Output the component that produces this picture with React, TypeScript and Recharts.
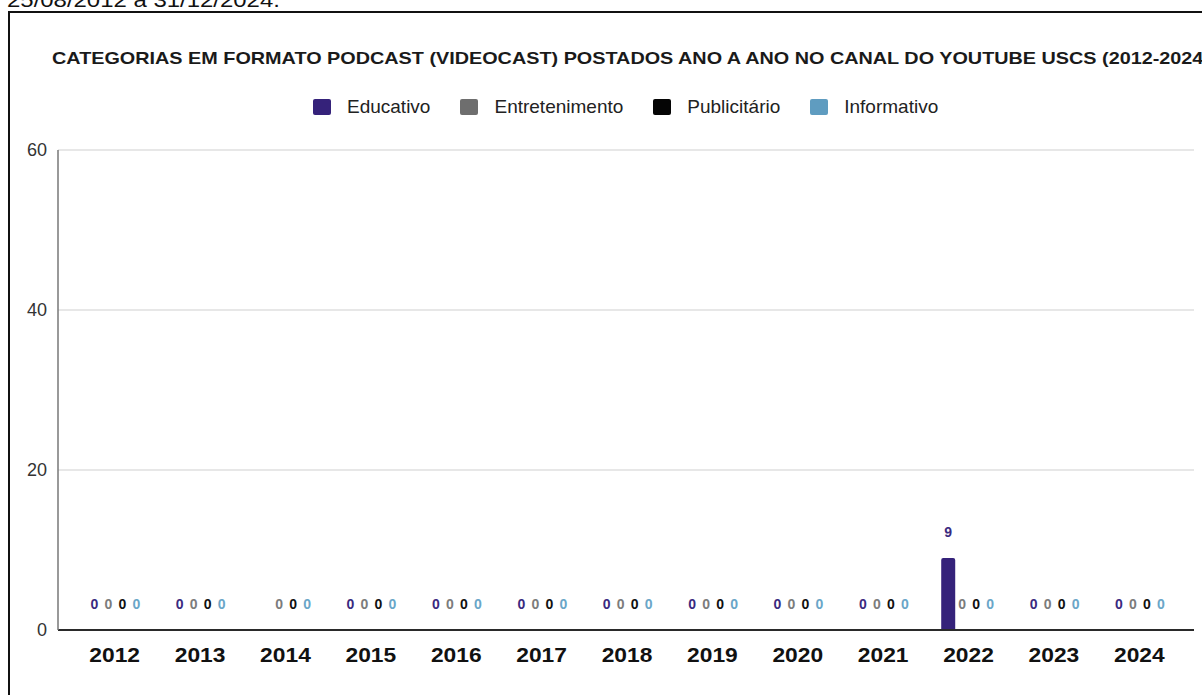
import { Bar, BarChart, CartesianGrid, LabelList, XAxis, YAxis } from "recharts";

const years = ["2012", "2013", "2014", "2015", "2016", "2017", "2018", "2019", "2020", "2021", "2022", "2023", "2024"];

const educativo: (number | null)[] = [0, 0, null, 0, 0, 0, 0, 0, 0, 0, 9, 0, 0];
const entretenimento = [0, 0, 0, 0, 0, 0, 0, 0, 0, 0, 0, 0, 0];
const publicitario = [0, 0, 0, 0, 0, 0, 0, 0, 0, 0, 0, 0, 0];
const informativo = [0, 0, 0, 0, 0, 0, 0, 0, 0, 0, 0, 0, 0];

const yTicks = [0, 20, 40, 60];

const series = [
  { key: "educativo", name: "Educativo", color: "#35227a", label: "#3a2a80" },
  { key: "entretenimento", name: "Entretenimento", color: "#6e6e6e", label: "#7c7c7c" },
  { key: "publicitario", name: "Publicitário", color: "#050505", label: "#111111" },
  { key: "informativo", name: "Informativo", color: "#5f9cc0", label: "#6aa6c8" },
];

const data = years.map((year, i) => ({
  year,
  educativo: educativo[i],
  entretenimento: entretenimento[i],
  publicitario: publicitario[i],
  informativo: informativo[i],
}));

const FONT = "'Liberation Sans', Arial, sans-serif";

function YearTick({ x, y, payload }: { x?: number; y?: number; payload?: { value: string } }) {
  return (
    <text
      transform={`translate(${x},${y}) scale(1.14,1)`}
      textAnchor="middle"
      dy="0.71em"
      fontSize={20}
      fontWeight="bold"
      fill="#111"
      fontFamily={FONT}
    >
      {payload?.value}
    </text>
  );
}

function showValue(v: unknown) {
  return v === null || v === undefined ? "" : String(v);
}

// zero bars get a hair-thin height so their "0" labels still get drawn
function tinyForZero(value: unknown) {
  return value === 0 ? 0.01 : 0;
}

export default function App() {
  return (
    <div
      style={{
        position: "fixed",
        left: 0,
        top: 0,
        width: 1202,
        height: 695,
        overflow: "hidden",
        background: "#fff",
        fontFamily: FONT,
      }}
    >
      <div
        style={{
          position: "absolute",
          left: 7,
          top: -11,
          fontSize: 21,
          lineHeight: "21px",
          color: "#111",
          whiteSpace: "nowrap",
          transform: "scaleX(1.14)",
          transformOrigin: "left top",
        }}
      >
        25/08/2012 a 31/12/2024.
      </div>
      <div
        style={{
          position: "absolute",
          left: 8,
          top: 11,
          width: 1400,
          height: 900,
          borderLeft: "2.5px solid #111",
          borderTop: "2.5px solid #111",
        }}
      />
      <div
        style={{
          position: "absolute",
          left: 52,
          top: 50,
          fontSize: 17,
          lineHeight: "17px",
          fontWeight: "bold",
          color: "#1a1a1a",
          whiteSpace: "nowrap",
          transform: "scaleX(1.165)",
          transformOrigin: "left top",
        }}
      >
        CATEGORIAS EM FORMATO PODCAST (VIDEOCAST) POSTADOS ANO A ANO NO CANAL DO YOUTUBE USCS (2012-2024)
      </div>
      <div style={{ position: "absolute", left: 313, top: 98, display: "flex", alignItems: "center" }}>
        {series.map((s) => (
          <div key={s.key} style={{ display: "flex", alignItems: "center", marginRight: 30 }}>
            <span style={{ width: 18, height: 16, background: s.color, display: "inline-block", borderRadius: 2 }} />
            <span style={{ marginLeft: 16, fontSize: 19, lineHeight: "18px", color: "#222" }}>{s.name}</span>
          </div>
        ))}
      </div>
      <div style={{ position: "absolute", left: 0, top: 0 }}>
        <BarChart
          width={1202}
          height={695}
          data={data}
          margin={{ top: 150, right: 8, bottom: 25, left: 0 }}
          barCategoryGap="18%"
          barGap={0}
        >
          <CartesianGrid vertical={false} stroke="#cfcfcf" yAxisId="left" />
          <XAxis
            dataKey="year"
            height={40}
            tickLine={false}
            tickMargin={12}
            axisLine={{ stroke: "#2a2a2a", strokeWidth: 2 }}
            padding={{ left: 14, right: 12 }}
            tick={<YearTick />}
            interval={0}
          />
          <YAxis
            yAxisId="left"
            width={58}
            domain={[0, 60]}
            ticks={yTicks}
            tickLine={false}
            tickMargin={5}
            axisLine={{ stroke: "#777", strokeWidth: 1.5 }}
            tick={{ fill: "#333", fontSize: 18, fontFamily: FONT }}
          />
          <YAxis
            yAxisId="right"
            orientation="right"
            width={0}
            domain={[0, 60]}
            tick={false}
            tickLine={false}
            axisLine={{ stroke: "#555", strokeWidth: 2 }}
          />
          {series.map((s) => (
            <Bar
              key={s.key}
              yAxisId="left"
              dataKey={s.key}
              name={s.name}
              fill={s.color}
              radius={[2, 2, 0, 0]}
              minPointSize={tinyForZero}
              isAnimationActive={false}
            >
              <LabelList
                dataKey={s.key}
                position="top"
                offset={21}
                formatter={showValue}
                style={{ fill: s.label, fontSize: 14, fontWeight: "bold", fontFamily: FONT }}
              />
            </Bar>
          ))}
        </BarChart>
      </div>
    </div>
  );
}
